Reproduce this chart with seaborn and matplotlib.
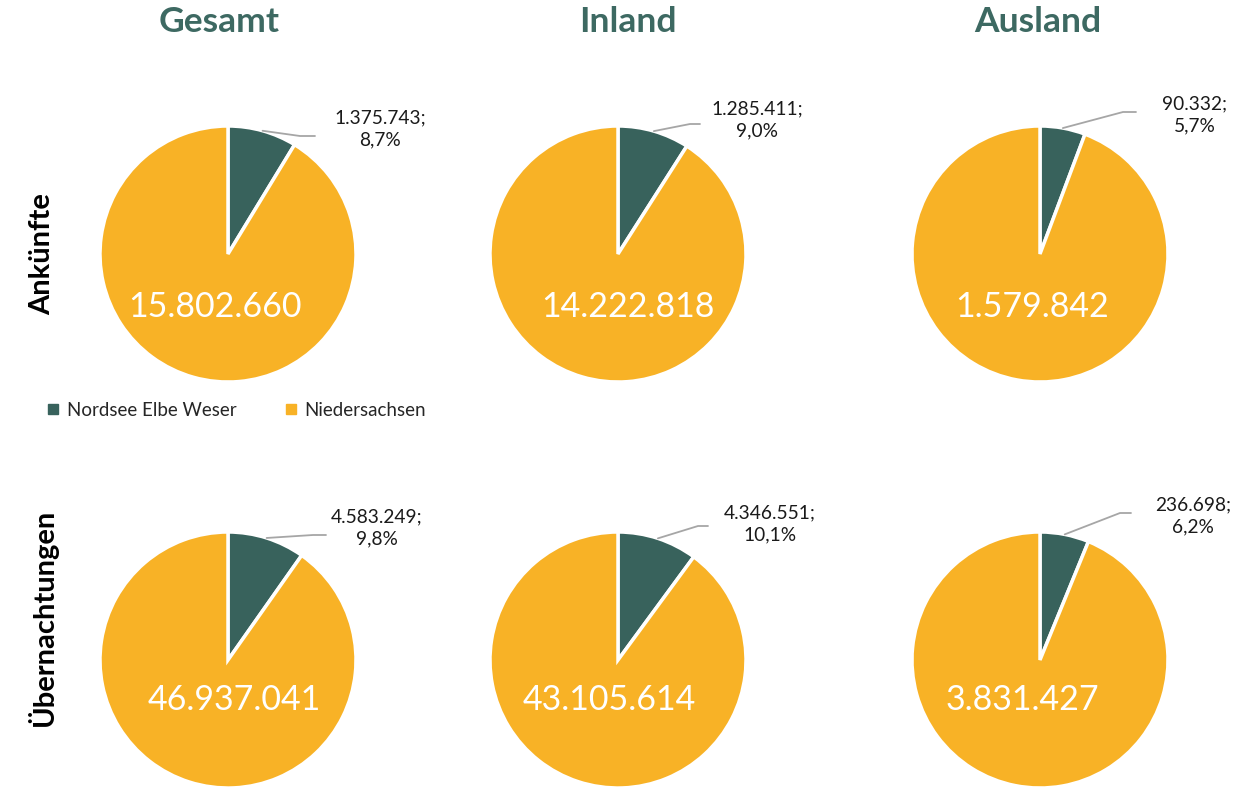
import math
import matplotlib.pyplot as plt
import seaborn as sns
from matplotlib.lines import Line2D

# data
columns = ['Gesamt', 'Inland', 'Ausland']
rows = ['Ankünfte', 'Übernachtungen']
series = ['Nordsee Elbe Weser', 'Niedersachsen']

# Nordsee Elbe Weser
new_ank = [1375743, 1285411, 90332]
new_ueb = [4583249, 4346551, 236698]
# Niedersachsen gesamt
nds_ank = [15802660, 14222818, 1579842]
nds_ueb = [46937041, 43105614, 3831427]

sns.set_style("white")
plt.rcParams['font.family'] = ['Lato', 'DejaVu Sans']

colors = ['#38625c', '#f8b226']
title_color = '#3d6962'

W, H = 1247, 787
R = 128
centers_x = [228, 618, 1040]
centers_y = [254, 660]

# layout of the leader lines / labels (pixels relative to pie centre, y up)
elbows = [[(72, 118), (72, 130), (83, 142)],
          [(85, 125), (80, 134), (80, 147)]]
tails = [[15, 10, 13], [13, 10, 11]]
out_pos = [[(152, 125), (139, 134), (155, 139)],
           [(149, 132), (152, 136), (153, 144)]]
in_pos = [[(-13, -53), (10, -53), (-8, -53)],
          [(6, -40), (-9, -40), (-18, -40)]]


def fmt(v):
    return f"{v:,}".replace(',', '.')


fig = plt.figure(figsize=(W / 100, H / 100), dpi=100)

data_rows = [(new_ank, nds_ank), (new_ueb, nds_ueb)]
for r, (new_vals, nds_vals) in enumerate(data_rows):
    for c in range(3):
        cx, cy = centers_x[c], centers_y[r]
        ax = fig.add_axes([(cx - R) / W, (H - cy - R) / H, 2 * R / W, 2 * R / H])
        new, nds = new_vals[c], nds_vals[c]
        ax.pie([new, nds - new], colors=colors, startangle=90, counterclock=False,
               radius=R, center=(0, 0),
               wedgeprops=dict(edgecolor='white', linewidth=2.5))
        ax.set_xlim(-R, R)
        ax.set_ylim(-R, R)
        ax.set_aspect('equal')
        ax.axis('off')

        # inner label
        ix, iy = in_pos[r][c]
        ax.text(ix, iy, fmt(nds), color='white', fontsize=24.5,
                ha='center', va='center')

        # outer label with leader line
        share = new / nds
        ang = math.radians(90 - 360 * share / 2)
        sx, sy = R * math.cos(ang), R * math.sin(ang)
        ex, ey = elbows[r][c]
        ax.plot([sx, ex, ex + tails[r][c]], [sy, ey, ey], color='#a6a6a6',
                lw=1.3, clip_on=False)
        lx, ly = out_pos[r][c]
        pct = f"{share * 100:.1f}".replace('.', ',')
        ax.text(lx, ly, f"{fmt(new)};\n{pct}%", fontsize=13.8, color='#1a1a1a',
                ha='center', va='center', linespacing=1.4)

# column titles
for x, t in zip([219, 628, 1038], columns):
    fig.text(x / W, 1 - 22 / H, t, fontsize=25.5, fontweight='bold',
             color=title_color, ha='center', va='center')

# row titles
for y, t in zip([254, 617], rows):
    fig.text(42 / W, 1 - y / H, t, fontsize=21, fontweight='bold',
             color='black', rotation=90, ha='center', va='center')

handles = [Line2D([], [], marker='s', ls='', color=col, markersize=7) for col in colors]
fig.legend(handles, series, loc='center left', bbox_to_anchor=(47 / W, 1 - 410 / H),
           ncol=2, frameon=False, fontsize=13.5, handlelength=0.6,
           handletextpad=0.45, columnspacing=2.6, borderaxespad=0, borderpad=0)

fig.savefig('out.png', dpi=100)
